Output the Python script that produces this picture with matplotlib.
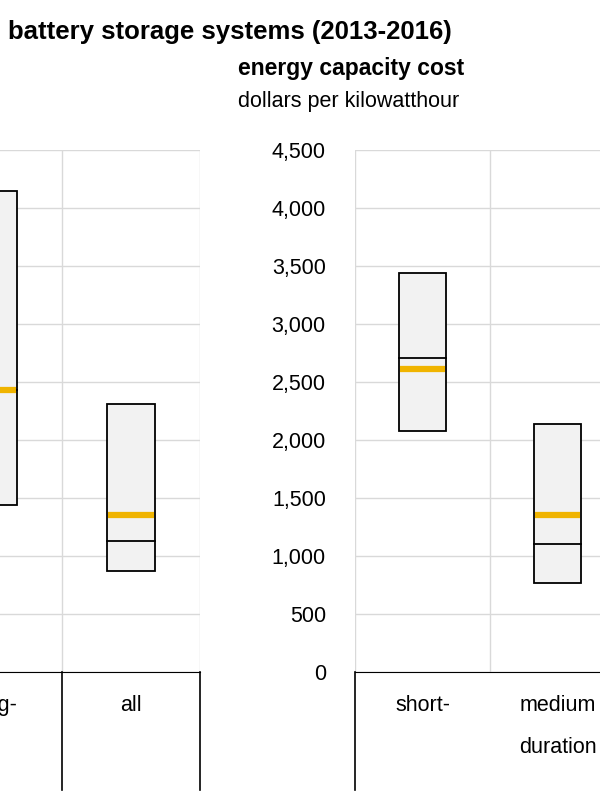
import matplotlib.pyplot as plt
import matplotlib.transforms as mtransforms

plt.rcParams['font.family'] = ['Liberation Sans', 'DejaVu Sans']

# left panel (cropped): long-duration, all
left_labels = ["long-", "all"]
left_low = [1440, 870]
left_high = [4150, 2310]
left_median = [2430, 1130]
left_mean = [2430, 1355]

# right panel: short-, medium duration
right_labels = ["short-", "medium\nduration"]
right_low = [2080, 770]
right_high = [3440, 2140]
right_median = [2710, 1105]
right_mean = [2610, 1355]

yticks = list(range(0, 4501, 500))

fig = plt.figure(figsize=(6, 8), dpi=100)

def panel(rect, xlim, labels, low, high, med, mean, show_y, dividers):
    ax = fig.add_axes(rect)
    ax.set_xlim(*xlim)
    ax.set_ylim(0, 4500)
    ax.set_yticks(yticks)
    ax.yaxis.grid(True, color='#d9d9d9', lw=1)
    ax.set_axisbelow(True)
    for s in ['left', 'right', 'top']:
        ax.spines[s].set_visible(False)
    ax.spines['bottom'].set_color('black')
    ax.set_xticks([])
    ax.tick_params(axis='y', length=0, labelsize=15.5, pad=21)
    if show_y:
        ax.set_yticklabels([f"{v:,}" for v in yticks])
    else:
        ax.set_yticklabels([])
    n = len(labels)
    bounds = [i - 0.5 for i in range(n + 1)]
    for b in bounds:
        ax.axvline(b, color='#d9d9d9', lw=1, zorder=0)
    tr = mtransforms.blended_transform_factory(ax.transData, ax.transAxes)
    for b in dividers:
        ax.plot([b, b], [0, -0.226], color='black', lw=1.2, transform=tr, clip_on=False)
    w = 0.35
    for i in range(n):
        ax.bar(i, high[i] - low[i], bottom=low[i], width=w, color='#f2f2f2',
               edgecolor='black', lw=1.3, zorder=2)
        ax.plot([i - w / 2, i + w / 2], [med[i], med[i]], color='black', lw=1.3, zorder=3)
        ax.plot([i - w / 2 + 0.01, i + w / 2 - 0.01], [mean[i], mean[i]],
                color='#f0b400', lw=4.5, solid_capstyle='butt', zorder=4)
        ax.text(i, -0.045, labels[i], transform=tr, ha='center', va='top',
                fontsize=15.5, linespacing=2.3, clip_on=False)
    return ax

bottom = (800 - 672) / 800
height = (672 - 150) / 800
panel([0, bottom, 200 / 600, height], (0.5 - 62 / 138, 1.5), left_labels,
      left_low, left_high, left_median, left_mean, False, [0.5, 1.5])
panel([355 / 600, bottom, 245 / 600, height], (-0.5, 0.5 + 110 / 135), right_labels,
      right_low, right_high, right_median, right_mean, True, [-0.5])

fig.text(8 / 600, 1 - 32 / 800, "battery storage systems (2013-2016)", fontsize=18.5,
         fontweight='bold', va='center', ha='left')
fig.text(238 / 600, 1 - 68 / 800, "energy capacity cost", fontsize=16.5,
         fontweight='bold', va='center', ha='left')
fig.text(238 / 600, 1 - 102 / 800, "dollars per kilowatthour", fontsize=15.5,
         va='center', ha='left')

fig.savefig("out.png", dpi=100)
